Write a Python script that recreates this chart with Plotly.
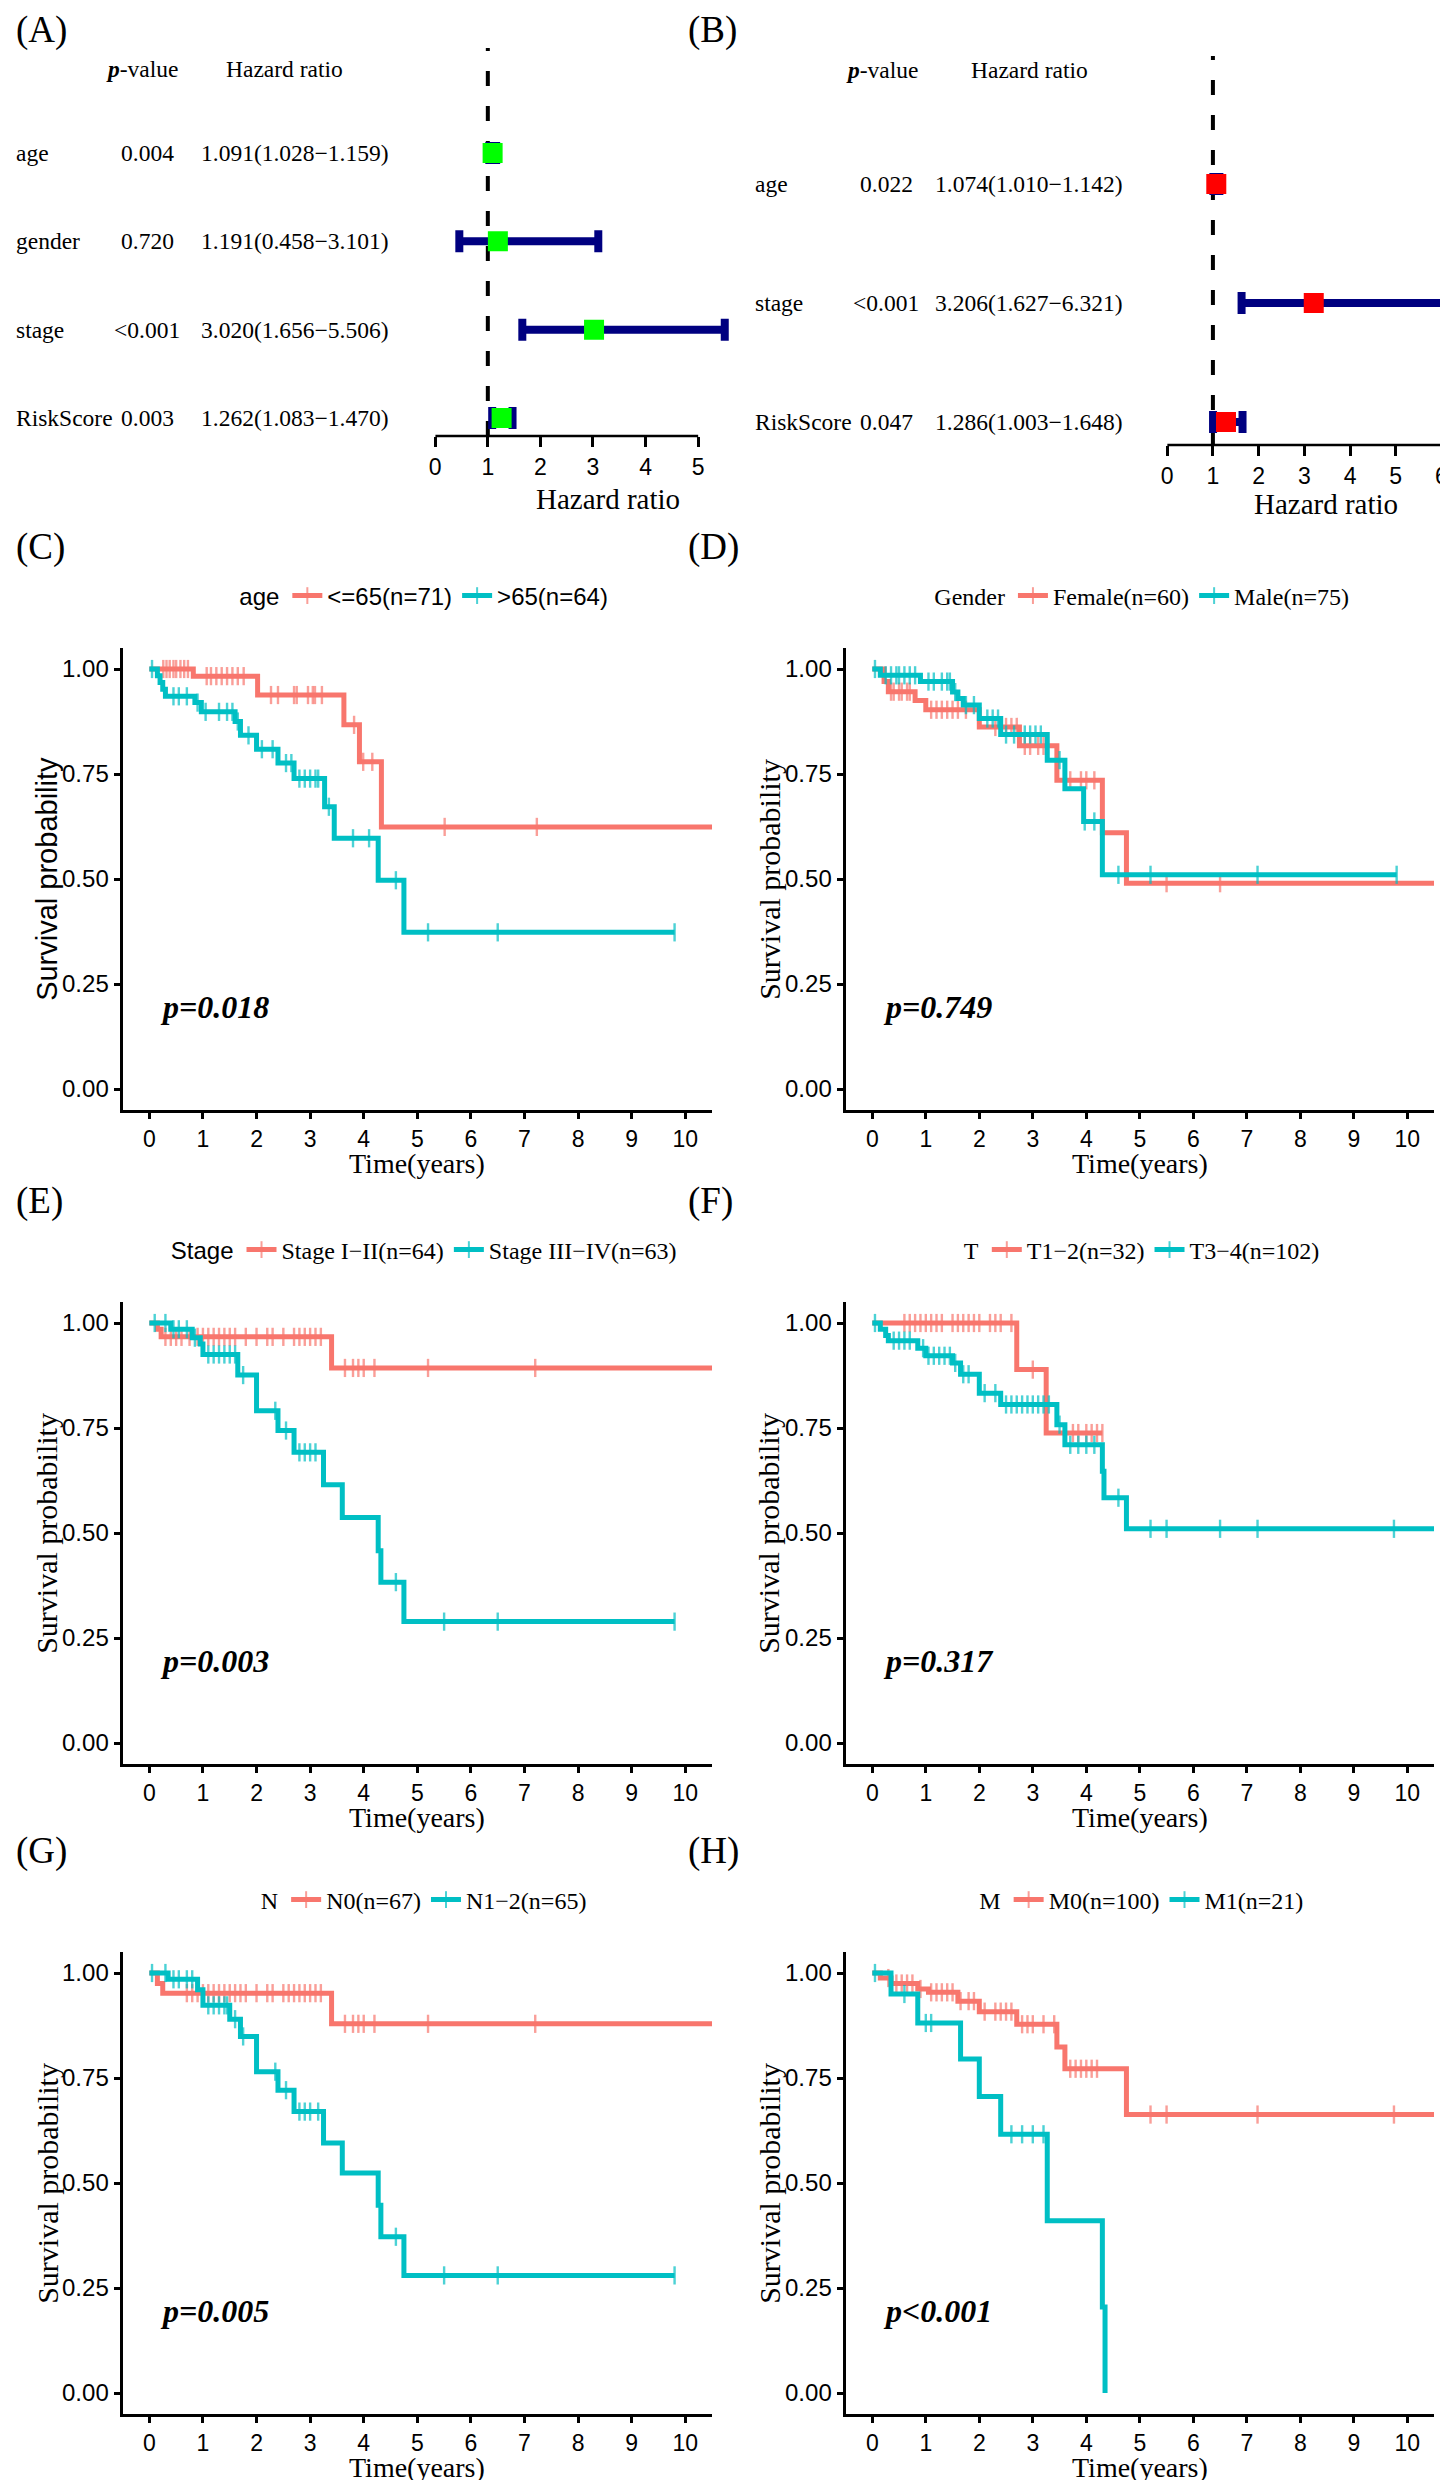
import plotly.graph_objects as go

# ---------------- DATA ----------------
# Forest plot A (univariate)
fa_vars = ["age", "gender", "stage", "RiskScore"]
fa_p = ["0.004", "0.720", "<0.001", "0.003"]
fa_hr = [1.091, 1.191, 3.020, 1.262]
fa_lo = [1.028, 0.458, 1.656, 1.083]
fa_hi = [1.159, 3.101, 5.506, 1.470]
fa_ticks = [0, 1, 2, 3, 4, 5]

# Forest plot B (multivariate)
fb_vars = ["age", "stage", "RiskScore"]
fb_p = ["0.022", "<0.001", "0.047"]
fb_hr = [1.074, 3.206, 1.286]
fb_lo = [1.010, 1.627, 1.003]
fb_hi = [1.142, 6.321, 1.648]
fb_ticks = [0, 1, 2, 3, 4, 5, 6]

# KM curves: step times, survival after step, censor times, last time
c_low_t = [0.82, 2.02, 3.63, 3.92, 4.33]
c_low_s = [0.983, 0.938, 0.867, 0.779, 0.624]
c_low_c = [0.26, 0.32, 0.38, 0.45, 0.5, 0.58, 0.65, 0.72, 1.07, 1.15, 1.25, 1.35, 1.45, 1.55, 1.65, 1.76,
           2.27, 2.4, 2.7, 2.75, 2.96, 3.05, 3.09, 3.22, 3.82, 3.99, 4.16, 5.51, 7.23]
c_low_end = 10.5
c_high_t = [0.15, 0.2, 0.25, 0.3, 0.85, 0.97, 1.6, 1.7, 2.0, 2.4, 2.7, 3.27, 3.45, 4.27, 4.75]
c_high_s = [0.984, 0.968, 0.952, 0.935, 0.92, 0.898, 0.875, 0.842, 0.809, 0.776, 0.739, 0.672, 0.597, 0.497, 0.373]
c_high_c = [0.05, 0.45, 0.55, 0.7, 0.9, 1.05, 1.3, 1.45, 1.55, 1.65, 1.85, 2.1, 2.3, 2.55, 2.65, 2.8, 2.9,
            3.0, 3.1, 3.15, 3.35, 3.8, 4.1, 4.6, 5.2, 6.5, 9.8]
c_high_end = 9.8

d_f_t = [0.22, 0.3, 0.8, 1.0, 2.0, 2.75, 3.45, 4.3, 4.75]
d_f_s = [0.97, 0.946, 0.925, 0.903, 0.862, 0.817, 0.735, 0.61, 0.49]
d_f_c = [0.35, 0.4, 0.5, 0.55, 0.65, 0.7, 1.1, 1.2, 1.3, 1.4, 1.5, 1.6, 1.75, 2.3, 2.5, 2.6, 2.7,
         2.85, 2.95, 3.1, 3.2, 3.7, 3.9, 4.0, 4.15, 5.5, 6.5]
d_f_end = 10.5
d_m_t = [0.15, 0.9, 1.5, 1.6, 1.7, 2.0, 2.4, 3.27, 3.6, 3.95, 4.3]
d_m_s = [0.985, 0.97, 0.945, 0.93, 0.914, 0.882, 0.844, 0.783, 0.715, 0.637, 0.51]
d_m_c = [0.05, 0.25, 0.35, 0.45, 0.5, 0.6, 0.7, 0.8, 1.05, 1.15, 1.3, 1.4, 1.45, 1.55, 1.75, 1.9,
         2.15, 2.25, 2.35, 2.5, 2.65, 2.85, 2.95, 3.05, 3.15, 3.5, 3.97, 4.15, 4.6, 5.2, 7.2, 9.8]
d_m_end = 9.8

e_lo_t = [0.15, 0.22, 3.4]
e_lo_s = [0.985, 0.967, 0.893]
e_lo_c = [0.3, 0.4, 0.5, 0.6, 0.75, 0.9, 1.0, 1.1, 1.2, 1.3, 1.4, 1.5, 1.6, 1.8, 2.0, 2.2, 2.3, 2.5, 2.7,
          2.8, 2.9, 3.0, 3.1, 3.2, 3.65, 3.8, 3.9, 4.0, 4.2, 5.2, 7.2]
e_lo_end = 10.5
e_hi_t = [0.4, 0.8, 0.95, 1.0, 1.65, 2.0, 2.4, 2.7, 3.25, 3.6, 4.27, 4.32, 4.75]
e_hi_s = [0.985, 0.965, 0.95, 0.925, 0.876, 0.791, 0.744, 0.692, 0.615, 0.537, 0.458, 0.383, 0.289]
e_hi_c = [0.1, 0.3, 0.45, 0.55, 0.7, 0.85, 1.1, 1.2, 1.3, 1.4, 1.5, 1.6, 1.75, 2.35, 2.55, 2.8, 2.9,
          3.0, 3.1, 4.6, 5.5, 6.5, 9.8]
e_hi_end = 9.8

f_lo_t = [2.7, 3.25]
f_lo_s = [0.889, 0.738]
f_lo_c = [0.6, 0.7, 0.8, 0.9, 1.0, 1.1, 1.2, 1.3, 1.5, 1.6, 1.7, 1.8, 1.9, 2.0, 2.2, 2.3, 2.4, 2.6,
          3.0, 3.6, 3.75, 3.85, 4.0, 4.1, 4.2, 4.3]
f_lo_end = 4.3
f_hi_t = [0.15, 0.25, 0.3, 0.85, 1.0, 1.5, 1.65, 2.0, 2.4, 3.45, 3.6, 4.3, 4.33, 4.75]
f_hi_s = [0.985, 0.97, 0.958, 0.94, 0.922, 0.905, 0.878, 0.833, 0.806, 0.758, 0.71, 0.647, 0.584, 0.51]
f_hi_c = [0.05, 0.4, 0.5, 0.6, 0.7, 0.95, 1.05, 1.15, 1.25, 1.35, 1.45, 1.55, 1.7, 1.8, 2.1, 2.3, 2.5,
          2.6, 2.7, 2.8, 2.9, 3.0, 3.1, 3.2, 3.3, 3.5, 3.7, 3.85, 4.0, 4.15, 4.6, 5.2, 5.5, 6.5, 7.2, 9.75]
f_hi_end = 10.5

g_lo_t = [0.15, 0.25, 3.4]
g_lo_s = [0.975, 0.952, 0.879]
g_lo_c = [0.7, 0.8, 0.9, 1.0, 1.1, 1.2, 1.3, 1.4, 1.5, 1.6, 1.7, 1.8, 2.0, 2.2, 2.3, 2.5, 2.6, 2.7, 2.8,
          2.9, 3.0, 3.1, 3.2, 3.65, 3.8, 3.9, 4.0, 4.2, 5.2, 7.2]
g_lo_end = 10.5
g_hi_t = [0.35, 0.9, 1.0, 1.5, 1.7, 2.0, 2.4, 2.7, 3.25, 3.6, 4.27, 4.32, 4.75]
g_hi_s = [0.985, 0.96, 0.923, 0.89, 0.849, 0.765, 0.721, 0.67, 0.595, 0.524, 0.447, 0.372, 0.28]
g_hi_c = [0.05, 0.3, 0.45, 0.55, 0.7, 0.8, 1.1, 1.2, 1.3, 1.4, 1.45, 1.6, 1.75, 2.35, 2.55, 2.8, 2.9,
          3.0, 3.15, 4.6, 5.5, 6.5, 9.8]
g_hi_end = 9.8

h_lo_t = [0.15, 0.35, 0.85, 1.05, 1.6, 2.0, 2.7, 3.45, 3.6, 4.75]
h_lo_s = [0.988, 0.975, 0.962, 0.954, 0.933, 0.908, 0.878, 0.824, 0.772, 0.663]
h_lo_c = [0.3, 0.45, 0.55, 0.65, 0.75, 0.9, 1.1, 1.2, 1.3, 1.4, 1.5, 1.65, 1.8, 1.9, 2.1, 2.3, 2.4, 2.5,
          2.6, 2.8, 2.9, 3.0, 3.2, 3.4, 3.7, 3.8, 3.9, 4.0, 4.1, 4.2, 5.2, 5.5, 7.2, 9.75]
h_lo_end = 10.5
h_hi_t = [0.35, 0.85, 1.65, 2.0, 2.4, 3.27, 4.3, 4.35]
h_hi_s = [0.95, 0.881, 0.795, 0.706, 0.616, 0.41, 0.205, 0.0]
h_hi_c = [0.05, 0.6, 1.0, 1.1, 2.6, 2.8, 3.0, 3.2]
h_hi_end = 4.35

km_xticks = list(range(0, 11))
km_yticks = [0.0, 0.25, 0.5, 0.75, 1.0]
km_yticklabels = ["0.00", "0.25", "0.50", "0.75", "1.00"]

# ---------------- STYLE / LAYOUT ----------------
W, H = 1448, 2480
SERIF = "Times New Roman, Liberation Serif, serif"
SANS = "Arial, Liberation Sans, sans-serif"
RED = "#F8766D"
CYAN = "#00BFC4"
NAVY = "#000080"


def fx(p):
    return p / W


def fy(p):
    return 1 - p / H


def esc(s):
    return s.replace("<", "&lt;").replace(">", "&gt;")


fig = go.Figure()
annotations = []
shapes = []
layout = dict(width=W, height=H, margin=dict(l=0, r=0, t=0, b=0),
              paper_bgcolor="white", plot_bgcolor="white", showlegend=True)


def axname(i, kind):
    return kind + ("" if i == 1 else str(i))


def ref(i, kind):
    return kind[0] + ("" if i == 1 else str(i))


TXT = 23.5

# ---- forest plots ----
forests = [
    dict(vars=fa_vars, p=fa_p, hr=fa_hr, lo=fa_lo, hi=fa_hi, ticks=fa_ticks, color="#00FF00",
         xpx=(423, 423 + 5.6 * 52.8), xr=[0, 5.6], ypx=(40, 428), rows=[145, 233, 321, 410],
         lab_x=0, p_x=134, hr_x=282, hp_x=129, hh_x=272, hdr_y=61, title=(596, 491),
         tag=("(A)", 0, 22)),
    dict(vars=fb_vars, p=fb_p, hr=fb_hr, lo=fb_lo, hi=fb_hi, ticks=fb_ticks, color="#FF0000",
         xpx=(1158, 1448), xr=[0, 290 / 45.9], ypx=(48, 437), rows=[176, 295, 414],
         lab_x=742, p_x=876, hr_x=1019, hp_x=872, hh_x=1020, hdr_y=62, title=(1317, 496),
         tag=("(B)", 675, 22)),
]

for k, fo in enumerate(forests):
    i = k + 1
    n = len(fo["vars"])
    yv = [n - j for j in range(n)]
    per = (fo["rows"][-1] - fo["rows"][0]) / (n - 1)
    ymin = 1 - (fo["ypx"][1] - fo["rows"][-1]) / per
    ymax = n + (fo["rows"][0] - fo["ypx"][0]) / per
    xa, ya = axname(i, "xaxis"), axname(i, "yaxis")
    xr_, yr_ = ref(i, "x"), ref(i, "y")
    layout[xa] = dict(domain=[fx(fo["xpx"][0]), min(1, fx(fo["xpx"][1]))], range=fo["xr"], anchor=yr_,
                      showgrid=False, zeroline=False, showline=False, ticks="outside", ticklen=10,
                      tickwidth=2.5, tickcolor="black", tickvals=fo["ticks"],
                      tickfont=dict(family=SANS, size=23, color="black"))
    layout[ya] = dict(domain=[fy(fo["ypx"][1]), fy(fo["ypx"][0])], range=[ymin, ymax], anchor=xr_,
                      visible=False, showgrid=False, zeroline=False)
    err_plus = [h - r for h, r in zip(fo["hi"], fo["hr"])]
    err_minus = [r - l for r, l in zip(fo["hr"], fo["lo"])]
    fig.add_trace(go.Scatter(
        x=fo["hr"], y=yv, xaxis=xr_, yaxis=yr_, mode="markers", showlegend=False,
        marker=dict(symbol="square", size=20, color=fo["color"], line=dict(width=0)),
        error_x=dict(type="data", symmetric=False, array=err_plus, arrayminus=err_minus,
                     color=NAVY, thickness=8, width=11)))
    shapes.append(dict(type="line", xref=xr_, yref=yr_ + " domain", x0=fo["ticks"][0], x1=fo["ticks"][-1],
                       y0=0, y1=0, line=dict(color="black", width=2.5)))
    shapes.append(dict(type="line", xref=xr_, yref=yr_ + " domain", x0=1, x1=1, y0=0, y1=1,
                       line=dict(color="black", width=4, dash="15px,20px"), layer="below"))
    for j in range(n):
        annotations.append(dict(xref="paper", yref=yr_, x=fx(fo["lab_x"]), y=yv[j], text=fo["vars"][j],
                                xanchor="left", yanchor="middle", showarrow=False,
                                font=dict(family=SERIF, size=TXT, color="black")))
        annotations.append(dict(xref="paper", yref=yr_, x=fx(fo["p_x"]), y=yv[j], text=esc(fo["p"][j]),
                                xanchor="center", yanchor="middle", showarrow=False,
                                font=dict(family=SERIF, size=TXT, color="black")))
        hrtxt = "%.3f(%.3f\u2212%.3f)" % (fo["hr"][j], fo["lo"][j], fo["hi"][j])
        annotations.append(dict(xref="paper", yref=yr_, x=fx(fo["hr_x"]), y=yv[j], text=hrtxt,
                                xanchor="center", yanchor="middle", showarrow=False,
                                font=dict(family=SERIF, size=TXT, color="black")))
    annotations.append(dict(xref="paper", yref="paper", x=fx(fo["hp_x"]), y=fy(fo["hdr_y"]),
                            text="<b><i>p</i></b>-value", xanchor="center", yanchor="middle",
                            showarrow=False, font=dict(family=SERIF, size=TXT, color="black")))
    annotations.append(dict(xref="paper", yref="paper", x=fx(fo["hh_x"]), y=fy(fo["hdr_y"]),
                            text="Hazard ratio", xanchor="center", yanchor="middle",
                            showarrow=False, font=dict(family=SERIF, size=TXT, color="black")))
    annotations.append(dict(xref="paper", yref="paper", x=fx(fo["title"][0]), y=fy(fo["title"][1]),
                            text="Hazard ratio", xanchor="center", yanchor="middle",
                            showarrow=False, font=dict(family=SERIF, size=29, color="black")))
    t, tx, ty = fo["tag"]
    annotations.append(dict(xref="paper", yref="paper", x=fx(tx), y=fy(ty), text=t,
                            xanchor="left", yanchor="middle", showarrow=False,
                            font=dict(family=SERIF, size=37, color="black")))


# ---- KM panels ----
def surv_at(tt, ts, ss):
    v = 1.0
    for a, b in zip(ts, ss):
        if a <= tt:
            v = b
    return v


def km_path(ts, ss, cs, end):
    pts = [(0.0, 1.0, 0, 0)]
    for a, b in zip(ts, ss):
        pts.append((a, b, 0, 0))
    for c in cs:
        pts.append((c, surv_at(c, ts, ss), 1, 1))
    if end not in cs:
        pts.append((end, surv_at(end, ts, ss), 0, 2))
    pts.sort(key=lambda p: (p[0], p[3]))
    return [p[0] for p in pts], [p[1] for p in pts], [13 if p[2] else 0 for p in pts]


kms = [
    dict(tag="(C)", leg_title="age", title_font=SANS, item_font=SANS, ylab_font=SANS, ylab_size=29,
         groups=[("<=65(n=71)", c_low_t, c_low_s, c_low_c, c_low_end),
                 (">65(n=64)", c_high_t, c_high_s, c_high_c, c_high_end)], p="p=0.018"),
    dict(tag="(D)", leg_title="Gender", title_font=SERIF, item_font=SERIF, ylab_font=SERIF, ylab_size=30,
         groups=[("Female(n=60)", d_f_t, d_f_s, d_f_c, d_f_end),
                 ("Male(n=75)", d_m_t, d_m_s, d_m_c, d_m_end)], p="p=0.749"),
    dict(tag="(E)", leg_title="Stage", title_font=SANS, item_font=SERIF, ylab_font=SERIF, ylab_size=30,
         groups=[("Stage I\u2212II(n=64)", e_lo_t, e_lo_s, e_lo_c, e_lo_end),
                 ("Stage III\u2212IV(n=63)", e_hi_t, e_hi_s, e_hi_c, e_hi_end)], p="p=0.003"),
    dict(tag="(F)", leg_title="T", title_font=SERIF, item_font=SERIF, ylab_font=SERIF, ylab_size=30,
         groups=[("T1\u22122(n=32)", f_lo_t, f_lo_s, f_lo_c, f_lo_end),
                 ("T3\u22124(n=102)", f_hi_t, f_hi_s, f_hi_c, f_hi_end)], p="p=0.317"),
    dict(tag="(G)", leg_title="N", title_font=SERIF, item_font=SERIF, ylab_font=SERIF, ylab_size=30,
         groups=[("N0(n=67)", g_lo_t, g_lo_s, g_lo_c, g_lo_end),
                 ("N1\u22122(n=65)", g_hi_t, g_hi_s, g_hi_c, g_hi_end)], p="p=0.005"),
    dict(tag="(H)", leg_title="M", title_font=SERIF, item_font=SERIF, ylab_font=SERIF, ylab_size=30,
         groups=[("M0(n=100)", h_lo_t, h_lo_s, h_lo_c, h_lo_end),
                 ("M1(n=21)", h_hi_t, h_hi_s, h_hi_c, h_hi_end)], p="p<0.001"),
]

col_x = [(109, 701), (835, 1426)]
col_tag_x = [0, 675]
col_ylab_x = [33, 758]
col_leg_x = [413, 1134]
row_top = [640, 1294, 1944]
PLOT_H = 462

for k, km in enumerate(kms):
    i = k + 3
    col, row = k % 2, k // 2
    x0, x1 = col_x[col]
    top = row_top[row]
    bot = top + PLOT_H
    xa, ya = axname(i, "xaxis"), axname(i, "yaxis")
    xr_, yr_ = ref(i, "x"), ref(i, "y")
    legname = "legend" if k == 0 else "legend%d" % (k + 1)
    layout[xa] = dict(domain=[fx(x0), fx(x1)], range=[-0.5, 10.5], anchor=yr_, showgrid=False,
                      zeroline=False, showline=True, linecolor="black", linewidth=3, ticks="outside",
                      ticklen=6, tickwidth=2.5, tickcolor="black", tickvals=km_xticks,
                      tickfont=dict(family=SANS, size=23, color="black"))
    layout[ya] = dict(domain=[fy(bot), fy(top)], range=[-0.05, 1.05], anchor=xr_, showgrid=False,
                      zeroline=False, showline=True, linecolor="black", linewidth=3, ticks="outside",
                      ticklen=6, tickwidth=2.5, tickcolor="black", tickvals=km_yticks,
                      ticktext=km_yticklabels, tickfont=dict(family=SANS, size=24, color="black"))
    for g, color in zip(km["groups"], [RED, CYAN]):
        name, ts, ss, cs, end = g
        xs, ys, sz = km_path(ts, ss, cs, end)
        fig.add_trace(go.Scatter(
            x=xs, y=ys, xaxis=xr_, yaxis=yr_, mode="lines+markers", name=esc(name), legend=legname,
            line=dict(color=color, width=5, shape="hv"),
            marker=dict(symbol="line-ns", size=sz, color=color, line=dict(color=color, width=2.4))))
    layout[legname] = dict(orientation="h", x=fx(col_leg_x[col]), y=fy(top - 52), xanchor="center",
                           yanchor="middle", bgcolor="rgba(0,0,0,0)", itemwidth=30, itemsizing="constant",
                           traceorder="normal",
                           title=dict(text=km["leg_title"], side="left",
                                      font=dict(family=km["title_font"], size=24, color="black")),
                           font=dict(family=km["item_font"], size=24, color="black"))
    annotations.append(dict(xref=xr_, yref=yr_, x=0.17, y=0.195, text="<b><i>%s</i></b>" % esc(km["p"]),
                            xanchor="left", yanchor="middle", showarrow=False,
                            font=dict(family=SERIF, size=32, color="black")))
    annotations.append(dict(xref="paper", yref="paper", x=fx(col_ylab_x[col]), y=fy((top + bot) / 2),
                            text="Survival probability", textangle=-90, xanchor="center", yanchor="middle",
                            showarrow=False, font=dict(family=km["ylab_font"], size=km["ylab_size"],
                                                       color="black")))
    annotations.append(dict(xref="paper", yref="paper", x=fx((x0 + x1) / 2), y=fy(bot + 53),
                            text="Time(years)", xanchor="center", yanchor="middle", showarrow=False,
                            font=dict(family=SERIF, size=28, color="black")))
    annotations.append(dict(xref="paper", yref="paper", x=fx(col_tag_x[col]), y=fy(top - 101),
                            text=km["tag"], xanchor="left", yanchor="middle", showarrow=False,
                            font=dict(family=SERIF, size=37, color="black")))

layout["annotations"] = annotations
layout["shapes"] = shapes
fig.update_layout(**layout)
fig.write_html("out.html")
